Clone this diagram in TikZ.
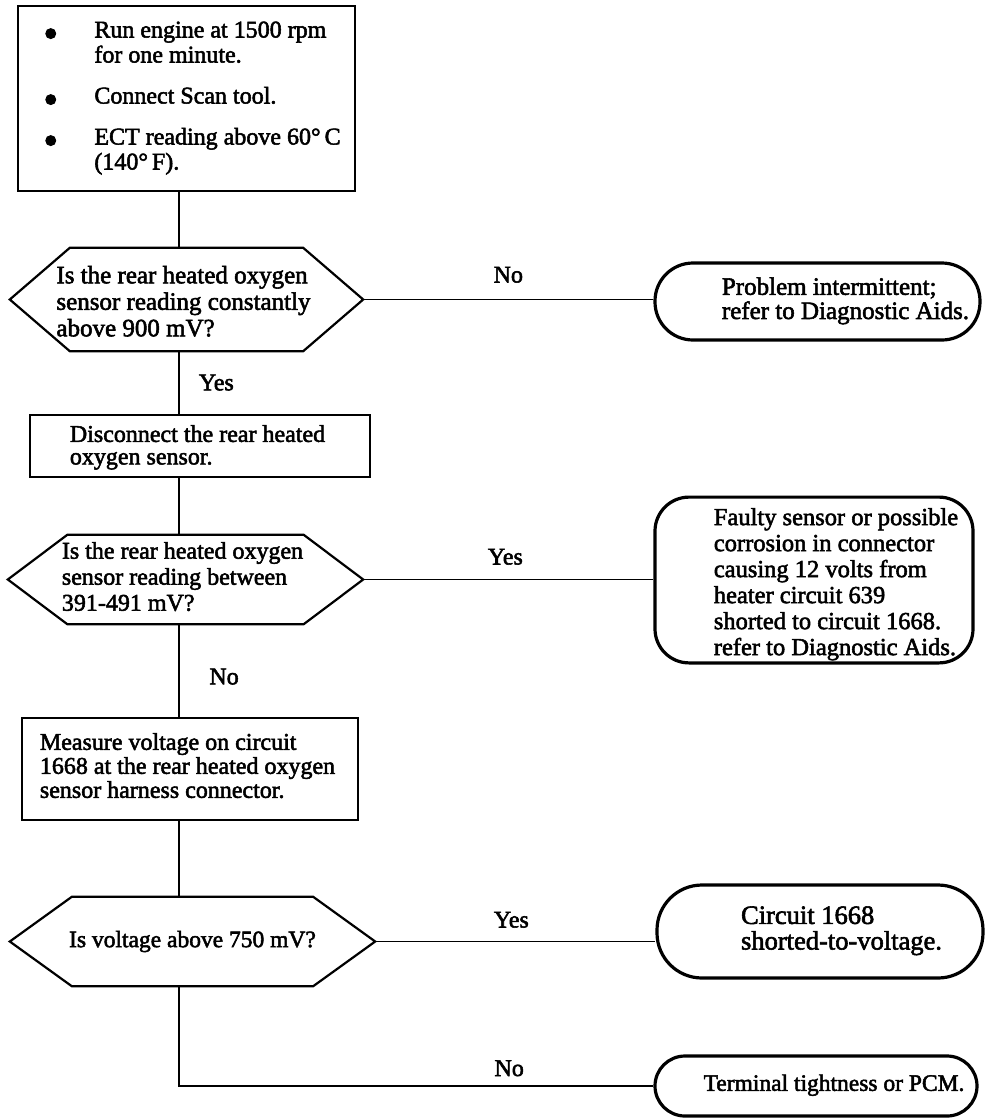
\documentclass[tikz,border=0pt]{standalone}
\usepackage{fontspec}
\setmainfont{Liberation Serif}[RawFeature={embolden=2.2}]
\newcommand{\txt}{\fontsize{24}{25}\selectfont}
\newcommand{\bul}{\raisebox{-10pt}[0pt][0pt]{\fontsize{42}{42}\selectfont\textbullet}}
\tikzset{
  actionbox/.style={draw, line width=2.2pt, inner sep=0pt, font=\txt},
  querybox/.style={inner sep=0pt, font=\txt,
    append after command={\pgfextra{\let\qnode\tikzlastnode
      \draw[line width=2.2pt, line join=miter] (\qnode.west) -- ([xshift=#1]\qnode.north west) -- ([xshift=-#1]\qnode.north east)
        -- (\qnode.east) -- ([xshift=-#1]\qnode.south east) -- ([xshift=#1]\qnode.south west) -- cycle;}}},
  endbox/.style={draw, line width=3.2pt, inner sep=0pt, font=\txt},
  flowline/.style={line width=1.8pt},
  branchlabel/.style={inner sep=0pt, font=\txt},
}

\begin{document}
\begin{tikzpicture}[x=1pt,y=-1pt]
\useasboundingbox (0,0) rectangle (992,1120);
\coordinate (spine) at (179,0);

\node[actionbox, minimum width=337pt, minimum height=185pt] (prep) at (186.5,98.5)
  {\begin{tabular}{@{\hspace{11pt}}p{51pt}@{}l@{}}
   \bul & Run engine at 1500 rpm\\
        & for one minute.\\[16pt]
   \bul & Connect Scan tool.\\[16pt]
   \bul & ECT reading above 60°\,C\\
        & (140°\,F).
   \end{tabular}};

\node[querybox=60pt, font=\fontsize{25}{26.5}\selectfont, minimum width=353pt, minimum height=103pt] (q1) at (186.5,299.5)
  {\begin{tabular}{@{\hspace{14pt}}l@{\hspace{20pt}}}\rule{0pt}{28.5pt}Is the rear heated oxygen\\ sensor reading constantly\\ above 900 mV?\end{tabular}};

\node[actionbox, font=\fontsize{24}{22.5}\selectfont, minimum width=340pt, minimum height=62pt] (unplug) at (200,446)
  {\begin{tabular}{@{}l@{\hspace{5pt}}}\rule{0pt}{21pt}Disconnect the rear heated\\ oxygen sensor.\end{tabular}};

\node[querybox=59.5pt, font=\fontsize{24}{26}\selectfont, minimum width=355pt, minimum height=89pt] (q2) at (185.5,579.5)
  {\begin{tabular}{@{}l@{\hspace{6pt}}}Is the rear heated oxygen\\ sensor reading between\\ 391-491 mV?\end{tabular}};

\node[actionbox, font=\fontsize{24}{24}\selectfont, minimum width=336pt, minimum height=102pt] (measure) at (190,769)
  {\begin{tabular}{@{}l@{\hspace{5pt}}}Measure voltage on circuit\\ 1668 at the rear heated oxygen\\ sensor harness connector.\end{tabular}};

\node[querybox=62pt, font=\fontsize{23.5}{25}\selectfont, minimum width=365pt, minimum height=89pt] (q3) at (192.5,941.5)
  {Is voltage above 750 mV?};

\node[endbox, font=\fontsize{25}{22}\selectfont, minimum width=325pt, minimum height=77pt, rounded corners=38pt] (t1) at (817.5,301.5)
  {\begin{tabular}{@{\hspace{56pt}}l@{}}Problem intermittent;\\ refer to Diagnostic Aids.\end{tabular}};

\node[endbox, font=\fontsize{24.5}{26}\selectfont, minimum width=318pt, minimum height=164pt, rounded corners=34pt] (t2) at (814,580)
  {\begin{tabular}{@{\hspace{44pt}}l@{}}\rule{0pt}{28pt}Faulty sensor or possible\\ corrosion in connector\\ causing 12 volts from\\ heater circuit 639\\ shorted to circuit 1668.\\ refer to Diagnostic Aids.\end{tabular}};

\node[endbox, font=\fontsize{26.5}{24}\selectfont, minimum width=326pt, minimum height=93pt, rounded corners=45pt] (t3) at (820,931.5)
  {\begin{tabular}{@{\hspace{43pt}}l@{}}Circuit 1668\\ shorted-to-voltage.\end{tabular}};

\node[endbox, font=\fontsize{23.5}{24}\selectfont, minimum width=322pt, minimum height=60pt, rounded corners=30pt] (t4) at (816,1086)
  {\begin{tabular}{@{\hspace{36pt}}l@{}}Terminal tightness or PCM.\end{tabular}};

\draw[flowline] (prep.south -| spine) -- (q1.north -| spine);
\draw[flowline] (q1.south -| spine) -- node[branchlabel, midway, anchor=west, xshift=19pt] {Yes} (unplug.north -| spine);
\draw[flowline] (unplug.south -| spine) -- (q2.north -| spine);
\draw[flowline] (q2.south -| spine) -- node[branchlabel, midway, anchor=west, xshift=29.5pt, yshift=-6pt] {No} (measure.north -| spine);
\draw[flowline] (measure.south -| spine) -- (q3.north -| spine);
\draw[flowline] (q3.south -| spine) |- node[branchlabel, pos=.848, anchor=base, yshift=10pt] {No} (t4.west);

\draw[flowline] (q1.east) -- node[branchlabel, midway, anchor=base, yshift=17pt] {No} (q1.east -| t1.west);
\draw[flowline] (q2.east) -- node[branchlabel, pos=.49, anchor=base, yshift=15pt] {Yes} (q2.east -| t2.west);
\draw[flowline] (q3.east) -- node[branchlabel, pos=.486, anchor=base, yshift=14pt] {Yes} (q3.east -| t3.west);
\end{tikzpicture}
\end{document}
